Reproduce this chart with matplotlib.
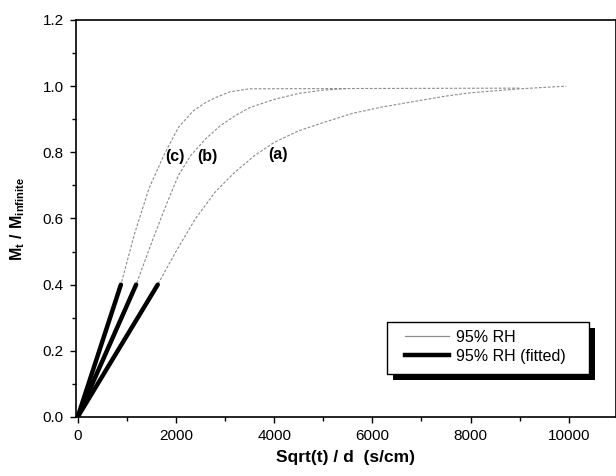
import numpy as np
import matplotlib
matplotlib.use('Agg')
import matplotlib.pyplot as plt
from matplotlib.lines import Line2D
from matplotlib.patches import Rectangle
from matplotlib.transforms import IdentityTransform
from matplotlib.ticker import MultipleLocator

plt.rcParams['font.family'] = ['Liberation Sans', 'DejaVu Sans']
plt.rcParams['mathtext.fontset'] = 'custom'
plt.rcParams['mathtext.rm'] = 'Liberation Sans'
plt.rcParams['mathtext.bf'] = 'Liberation Sans:bold'

# ----------------------------------------------------------------------
# data
# ----------------------------------------------------------------------
# measured uptake curves (thin)
xa = [0, 1630, 2000, 2400, 2800, 3200, 3600, 4000, 4500, 5000, 5600, 6200,
      6900, 7500, 8000, 9000, 9950]
ya = [0, 0.40, 0.50, 0.60, 0.68, 0.74, 0.79, 0.83, 0.865, 0.89, 0.918,
      0.937, 0.955, 0.97, 0.98, 0.992, 1.0]

xb = [0, 1190, 1500, 1800, 2050, 2300, 2600, 2900, 3200, 3500, 4000, 4500,
      5000, 5500]
yb = [0, 0.40, 0.525, 0.64, 0.73, 0.79, 0.84, 0.88, 0.91, 0.935, 0.96,
      0.978, 0.988, 0.993]

xc = [0, 880, 1150, 1450, 1750, 2050, 2350, 2600, 2800, 3100, 3500, 6000,
      9000]
yc = [0, 0.40, 0.55, 0.69, 0.79, 0.875, 0.925, 0.95, 0.965, 0.983, 0.992,
      0.993, 0.994]

# linear fits of the initial part (thick)
fit_x_end = [1630, 1190, 880]   # (a), (b), (c)
fit_y_end = [0.40, 0.40, 0.40]

curve_labels = ['(a)', '(b)', '(c)']
label_x = [4086, 2640, 1990]
label_y = [0.792, 0.786, 0.786]

legend_labels = ['95% RH', '95% RH (fitted)']

# ----------------------------------------------------------------------
fig = plt.figure(figsize=(6.16, 4.76), dpi=100)
ax = fig.add_axes([0.1229, 0.124, 0.8763, 0.834])

thin_kw = dict(color='#8c8c8c', linewidth=0.8, linestyle=(0, (2.5, 1.5)))
for x, y in [(xa, ya), (xb, yb), (xc, yc)]:
    ax.plot(x, y, **thin_kw)

for xe, ye in zip(fit_x_end, fit_y_end):
    ax.plot([0, xe], [0, ye], color='black', linewidth=3.2,
            solid_capstyle='round')

for lab, lx, ly in zip(curve_labels, label_x, label_y):
    ax.text(lx, ly, lab, ha='center', va='center', fontsize=11.5,
            fontweight='bold')

ax.set_xlim(-40, 10950)
ax.set_ylim(0, 1.2)
ax.xaxis.set_major_locator(MultipleLocator(2000))
ax.xaxis.set_minor_locator(MultipleLocator(1000))
ax.yaxis.set_major_locator(MultipleLocator(0.2))
ax.yaxis.set_minor_locator(MultipleLocator(0.1))
ax.yaxis.set_major_formatter(plt.FormatStrFormatter('%.1f'))

ax.tick_params(which='major', direction='out', length=4.5, width=1.0,
               labelsize=11, pad=4)
ax.tick_params(which='minor', direction='out', length=3, width=1.0)
ax.tick_params(top=False, right=False)
for s in ax.spines.values():
    s.set_linewidth(1.2)

ax.set_xlabel('Sqrt(t) / d  (s/cm)', fontsize=12.5, fontweight='bold',
              labelpad=5)
ax.set_ylabel(r'$\mathbf{M_t\ /\ M_{infinite}}$', fontsize=11.5, labelpad=11)

# legend: framed box with a solid black drop shadow
box_x0, box_y0, box_w, box_h = 0.5767, 0.1083, 0.3743, 0.131
to_px = ax.transAxes
(px0, py0) = to_px.transform((box_x0, box_y0))
(px1, py1) = to_px.transform((box_x0 + box_w, box_y0 + box_h))
ax.add_patch(Rectangle((px0 + 6, py0 - 6), px1 - px0, py1 - py0,
                       transform=IdentityTransform(), facecolor='black',
                       edgecolor='none', zorder=4.8, clip_on=False))
ax.add_patch(Rectangle((box_x0, box_y0), box_w, box_h,
                       transform=ax.transAxes, facecolor='white',
                       edgecolor='black', linewidth=1.0, zorder=4.9,
                       clip_on=False))

handles = [Line2D([], [], color='#8c8c8c', linewidth=0.9),
           Line2D([], [], color='black', linewidth=3.2)]
leg = ax.legend(handles, legend_labels, loc='center',
                bbox_to_anchor=(0.759, 0.177), fontsize=11.5,
                frameon=False, handlelength=2.75, handletextpad=0.5,
                borderpad=0, labelspacing=0.25, borderaxespad=0)
leg.set_zorder(5)

fig.savefig('out.png', dpi=100)
